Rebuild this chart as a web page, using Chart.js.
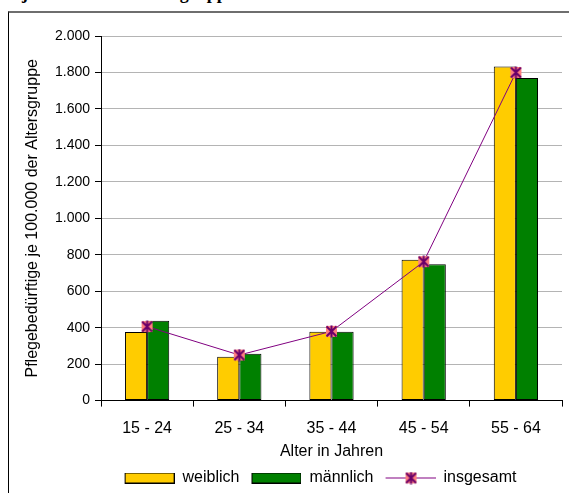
<!DOCTYPE html>
<html>
<head>
<meta charset="utf-8">
<script src="https://cdn.jsdelivr.net/npm/chart.js@4.4.0/dist/chart.umd.min.js"></script>
<style>
  body { margin: 0; background: #fff; width: 569px; height: 493px; overflow: hidden; position: relative; }
  #cut { position: absolute; left: 22px; top: -16px; font: bold 18px "Liberation Serif", serif; line-height: 18px; white-space: nowrap; }
  #frame { position: absolute; left: 8px; top: 11px; width: 580px; height: 500px; border-left: 1px solid #000; border-top: 2px solid #6e6e6e; }
  #wrap { position: absolute; left: 9px; top: 13px; width: 560px; height: 480px; }
</style>
</head>
<body>
<div id="cut">je 100.000 der Altersgruppe</div>
<div id="frame"></div>
<div id="wrap"><canvas id="c"></canvas></div>
<script>
var ageGroups = ["15 - 24", "25 - 34", "35 - 44", "45 - 54", "55 - 64"];
var female = [376, 241, 378, 772, 1833];
var male = [438, 257, 378, 748, 1770];
var total = [406, 250, 380, 762, 1800];

function fmt(v) {
    return String(v).replace(/\B(?=(\d{3})+(?!\d))/g, '.');
}

// star marker like the old office one: pink square, purple X with a vertical stroke
function makeMarker() {
    var cv = document.createElement('canvas');
    cv.width = 13; cv.height = 13;
    var g = cv.getContext('2d');
    g.fillStyle = '#ff7f7f';
    g.fillRect(1, 1, 11, 11);
    g.strokeStyle = '#6a006a';
    g.lineWidth = 2;
    g.beginPath();
    g.moveTo(1.5, 1.5); g.lineTo(11.5, 11.5);
    g.moveTo(11.5, 1.5); g.lineTo(1.5, 11.5);
    g.moveTo(6.5, 0.5); g.lineTo(6.5, 12.5);
    g.stroke();
    return cv;
}

// legend swatches are 58 wide: 8px blank on the left, then the 50px sample
function legendBox(color) {
    var cv = document.createElement('canvas');
    cv.width = 58; cv.height = 11;
    var g = cv.getContext('2d');
    g.fillStyle = color;
    g.fillRect(8, 0, 50, 11);
    g.strokeStyle = '#000';
    g.lineWidth = 1;
    g.strokeRect(8.5, 0.5, 49, 10);
    return cv;
}

function legendLine() {
    var cv = document.createElement('canvas');
    cv.width = 58; cv.height = 13;
    var g = cv.getContext('2d');
    g.strokeStyle = '#800080';
    g.lineWidth = 1;
    g.beginPath();
    g.moveTo(8, 6.5); g.lineTo(58, 6.5);
    g.stroke();
    g.drawImage(makeMarker(), 27, 0);
    return cv;
}

var marker = makeMarker();

// legend in the original sits a bit right of centre
var legendShift = {
    id: 'legendShift',
    afterLayout: function (chart) {
        chart.legend.left += 31;
        chart.legend.right += 31;
    }
};

var ctx = document.getElementById('c');
var chart = new Chart(ctx, {
    type: 'bar',
    data: {
        labels: ageGroups,
        datasets: [
            {
                label: 'weiblich',
                data: female,
                backgroundColor: '#ffcc00',
                borderColor: '#000',
                borderWidth: 1,
                borderSkipped: false,
                categoryPercentage: 0.48,
                barPercentage: 1,
                order: 1
            },
            {
                label: 'männlich',
                data: male,
                backgroundColor: '#008000',
                borderColor: '#000',
                borderWidth: 1,
                borderSkipped: false,
                categoryPercentage: 0.48,
                barPercentage: 1,
                order: 1
            },
            {
                type: 'line',
                label: 'insgesamt',
                data: total,
                borderColor: '#800080',
                borderWidth: 1,
                pointStyle: marker,
                tension: 0,
                fill: false,
                order: 0
            }
        ]
    },
    plugins: [legendShift],
    options: {
        responsive: true,
        maintainAspectRatio: false,
        animation: false,
        layout: { padding: { top: 23, right: 7, left: 0, bottom: -3 } },
        plugins: {
            tooltip: { enabled: false },
            legend: {
                position: 'bottom',
                labels: {
                    usePointStyle: true,
                    pointStyleWidth: 58,
                    boxHeight: 12,
                    padding: 4,
                    color: '#000',
                    font: { family: 'Liberation Sans', size: 16 },
                    generateLabels: function () {
                        return [
                            { text: 'weiblich', pointStyle: legendBox('#ffcc00'), fillStyle: '#ffcc00', strokeStyle: '#000', lineWidth: 0, datasetIndex: 0 },
                            { text: 'männlich', pointStyle: legendBox('#008000'), fillStyle: '#008000', strokeStyle: '#000', lineWidth: 0, datasetIndex: 1 },
                            { text: 'insgesamt', pointStyle: legendLine(), fillStyle: '#800080', strokeStyle: '#800080', lineWidth: 0, datasetIndex: 2 }
                        ];
                    }
                }
            }
        },
        scales: {
            x: {
                grid: { display: true, drawOnChartArea: false, offset: true, tickLength: 6, tickColor: '#000' },
                border: { color: '#000', width: 1 },
                ticks: { color: '#000', font: { family: 'Liberation Sans', size: 16 }, padding: 12, maxRotation: 0 },
                title: { display: true, text: 'Alter in Jahren', color: '#000', font: { family: 'Liberation Sans', size: 16 }, padding: { top: -8, bottom: 5 } }
            },
            y: {
                min: 0,
                max: 2000,
                afterFit: function (s) { s.width = 92; },
                grid: { color: '#b4b4b4', lineWidth: 1, tickLength: 6, tickColor: '#000' },
                border: { color: '#000', width: 1 },
                ticks: { stepSize: 200, color: '#000', font: { family: 'Liberation Sans', size: 14 }, padding: 5, callback: function (v) { return fmt(v); } },
                title: { display: true, text: 'Pflegebedürftige je 100.000 der Altersgruppe', color: '#000', font: { family: 'Liberation Sans', size: 16 }, padding: { top: 14, bottom: 0 } }
            }
        }
    }
});
</script>
</body>
</html>
